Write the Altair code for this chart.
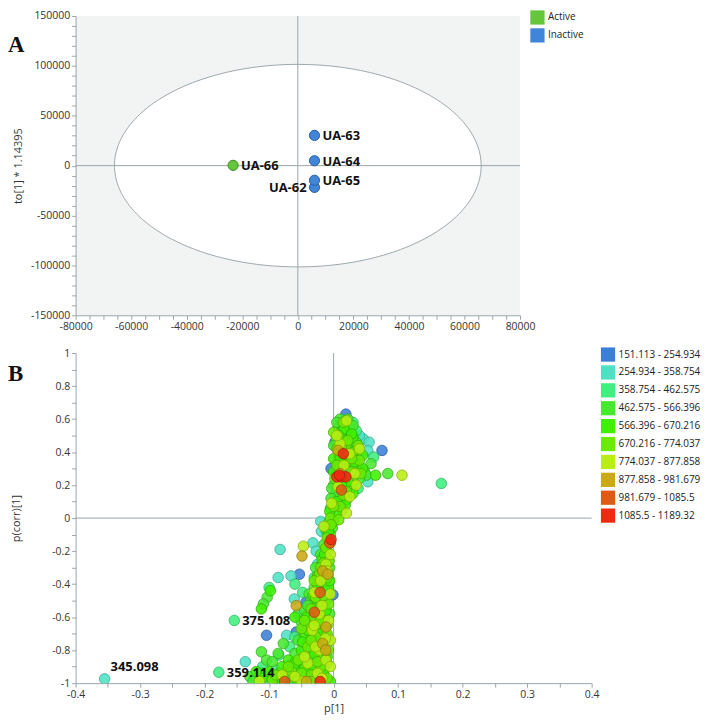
import altair as alt
import pandas as pd

# ---------------- Panel A: score plot ----------------
a_samples = ["UA-62", "UA-63", "UA-64", "UA-65", "UA-66"]
a_t1 = [6000, 6000, 6000, 6000, -23300]
a_to1 = [-21800, 30300, 4900, -14650, 300]
a_group = ["Inactive", "Inactive", "Inactive", "Inactive", "Active"]
a_label_side = ["left", "right", "right", "right", "right"]

a_groups = ["Active", "Inactive"]
a_fill = ["#63c63b", "#3f86d9"]
a_stroke = ["#3b8a22", "#2a5c9c"]

ellipse_semi_x = 66000
ellipse_semi_y = 101500

a_x_ticks = list(range(-80000, 80001, 5000))
a_y_ticks = list(range(-150000, 150001, 10000))

# ---------------- Panel B: S-plot ----------------
b_bins = ["151.113 - 254.934", "254.934 - 358.754", "358.754 - 462.575",
          "462.575 - 566.396", "566.396 - 670.216", "670.216 - 774.037",
          "774.037 - 877.858", "877.858 - 981.679", "981.679 - 1085.5",
          "1085.5 - 1189.32"]
b_fill = ["#3b7fd6", "#4ee0c4", "#3fef80", "#47e92f", "#3ff000",
          "#6aeb00", "#b9ee12", "#c9a915", "#de5b16", "#ee2a12"]
b_stroke = ["#25599e", "#35a58f", "#2cb05c", "#30a820", "#2da800",
            "#4aa800", "#85ad0c", "#8f780d", "#a0400e", "#ad1a0a"]

pts_151 = [(0.019, 0.63), (0.002, 0.46), (0.075, 0.41), (0.012, 0.57), (-0.053, -0.34),
           (-0.104, -0.71), (-0.058, -0.69), (-0.043, -0.51), (-0.001, -0.465),
           (-0.019, -0.91), (-0.07, -0.98), (-0.004, 0.3)]
pts_254 = [(0.046, 0.48), (0.055, 0.46), (0.053, 0.41), (0.053, 0.22), (0.03, 0.44),
           (0.04, 0.5), (0.025, 0.3), (-0.083, -0.19), (-0.032, -0.15), (-0.027, -0.2),
           (-0.066, -0.35), (-0.086, -0.36), (-0.061, -0.49), (-0.04, -0.54),
           (-0.073, -0.71), (-0.019, -0.08), (-0.025, -0.28), (-0.015, -0.38),
           (-0.355, -0.974), (-0.137, -0.87), (-0.115, -0.93), (-0.09, -0.92),
           (-0.08, -0.96), (-0.1, -0.99), (-0.06, -0.97), (-0.035, -0.62),
           (-0.045, -0.8), (-0.03, -0.86), (-0.065, -0.88), (-0.01, -0.72),
           (-0.02, -0.02), (0.008, 0.12)]
pts_358 = [(0.167, 0.21), (-0.154, -0.62), (-0.178, -0.934), (-0.1, -0.42), (-0.06, -0.4),
           (-0.05, -0.9), (-0.085, -0.83), (-0.12, -0.97), (-0.036, -0.7), (-0.02, -0.55),
           (-0.03, -0.36), (0.035, 0.53), (0.015, 0.47), (0.062, 0.37), (0.038, 0.18),
           (-0.01, -0.1), (-0.04, -0.75), (-0.11, -0.9), (-0.075, -0.93), (-0.068, -0.78),
           (-0.018, -0.42), (-0.048, -0.45), (-0.055, -0.58), (-0.025, -0.7),
           (-0.06, -0.72), (-0.045, -0.92), (-0.1, -0.96), (0.03, 0.58), (0.04, 0.31)]
pts_462 = [(0.01, 0.6), (0.007, 0.55), (0.025, 0.55), (0.019, 0.5), (0.004, 0.48),
           (0.038, 0.38), (0.058, 0.33), (0.025, 0.34), (0.035, 0.32), (0.048, 0.28),
           (0.084, 0.27), (0.051, 0.26), (0.02, 0.11), (0.01, 0.1), (0.0, 0.2),
           (0.002, 0.14), (-0.005, 0.06), (-0.008, -0.03), (-0.012, -0.07),
           (-0.015, -0.16), (-0.02, -0.22), (-0.028, -0.3), (-0.03, -0.42),
           (-0.038, -0.46), (-0.035, -0.5), (-0.045, -0.56), (-0.05, -0.63),
           (-0.025, -0.66), (-0.055, -0.74), (-0.03, -0.77), (-0.06, -0.82),
           (-0.04, -0.84), (-0.078, -0.76), (-0.086, -0.82), (-0.112, -0.81),
           (-0.104, -0.86), (-0.1, -0.95), (-0.09, -0.97), (-0.055, -0.95),
           (-0.03, -0.98), (-0.13, -0.96), (-0.01, -0.88), (-0.012, -0.5),
           (-0.006, -0.3), (-0.103, -0.48), (-0.109, -0.52),
           (0.005, 0.58), (0.022, 0.6), (0.03, 0.56), (0.012, 0.52), (0.0, 0.44),
           (0.024, 0.42), (0.035, 0.46), (0.008, 0.33), (0.018, 0.29), (0.04, 0.24),
           (0.025, 0.17), (0.005, 0.16), (-0.004, 0.12), (0.013, 0.05), (-0.003, 0.18),
           (-0.002, -0.06), (-0.006, -0.14), (-0.01, -0.24), (-0.018, -0.29),
           (-0.022, -0.4), (-0.01, -0.44), (-0.025, -0.52), (-0.04, -0.53),
           (-0.006, -0.58), (-0.035, -0.58), (-0.015, -0.68), (-0.045, -0.65),
           (-0.008, -0.75), (-0.035, -0.8), (-0.05, -0.88), (-0.015, -0.92),
           (-0.07, -0.95), (-0.04, -0.93), (-0.085, -0.94), (-0.11, -0.94),
           (-0.125, -0.99), (-0.02, -0.99), (-0.06, -0.91), (-0.03, -0.9), (-0.095, -0.87)]
pts_566 = [(0.03, 0.49), (0.0, 0.36), (0.015, 0.36), (0.03, 0.4), (0.045, 0.3),
           (0.065, 0.26), (0.03, 0.22), (0.015, 0.19), (0.005, 0.03), (0.0, -0.02),
           (-0.005, -0.1), (-0.01, -0.2), (-0.018, -0.25), (-0.015, -0.33),
           (-0.025, -0.4), (-0.02, -0.45), (-0.03, -0.55), (-0.015, -0.6),
           (-0.042, -0.6), (-0.02, -0.7), (-0.045, -0.7), (-0.015, -0.78),
           (-0.05, -0.8), (-0.022, -0.84), (-0.07, -0.86), (-0.035, -0.9),
           (-0.08, -0.9), (-0.015, -0.95), (-0.045, -0.97), (-0.11, -0.97),
           (-0.063, -0.99), (-0.005, -0.99), (-0.112, -0.55), (-0.098, -0.44),
           (-0.06, -0.6), (-0.008, -0.42),
           (0.016, 0.54), (0.028, 0.51), (0.008, 0.5), (0.02, 0.38), (0.01, 0.37),
           (0.032, 0.34), (0.0, 0.28), (0.022, 0.22), (0.012, 0.2), (0.03, 0.15),
           (0.005, 0.1), (0.018, 0.08), (-0.006, 0.04), (0.045, 0.38),
           (-0.008, -0.08), (-0.014, -0.22), (-0.025, -0.35), (-0.006, -0.38),
           (-0.032, -0.47), (-0.012, -0.56), (-0.025, -0.64), (-0.048, -0.75),
           (-0.03, -0.82), (-0.01, -0.84), (-0.06, -0.88), (-0.045, -0.91),
           (-0.03, -0.95), (-0.08, -0.98), (-0.1, -0.93), (-0.12, -0.93),
           (-0.055, -0.98), (-0.02, -0.76), (-0.04, -0.68)]
pts_670 = [(0.015, 0.58), (0.02, 0.45), (0.005, 0.42), (0.04, 0.35), (0.01, 0.3),
           (0.028, 0.28), (0.002, 0.24), (0.02, 0.16), (0.01, 0.07), (-0.005, 0.0),
           (-0.01, -0.12), (-0.012, -0.18), (-0.022, -0.34), (-0.01, -0.36),
           (-0.028, -0.48), (-0.008, -0.52), (-0.038, -0.65), (-0.01, -0.65),
           (-0.028, -0.72), (-0.008, -0.8), (-0.04, -0.78), (-0.055, -0.86),
           (-0.02, -0.9), (-0.065, -0.93), (-0.095, -0.98), (-0.01, -0.97),
           (-0.035, -0.95), (-0.05, -0.67), (-0.03, -0.6), (-0.015, -0.27),
           (0.0, 0.52), (0.022, 0.47), (0.038, 0.44), (0.012, 0.43), (0.028, 0.36),
           (0.005, 0.32), (0.042, 0.27), (0.015, 0.14), (0.0, 0.07), (0.008, -0.01),
           (-0.004, -0.04), (-0.007, -0.26), (-0.02, -0.3), (-0.03, -0.38),
           (-0.015, -0.47), (-0.035, -0.55), (-0.02, -0.62), (-0.045, -0.62),
           (-0.01, -0.7), (-0.035, -0.74), (-0.025, -0.87), (-0.07, -0.9),
           (-0.05, -0.94), (-0.09, -0.95), (-0.035, -0.99)]
pts_774 = [(0.02, 0.59), (0.033, 0.27), (0.106, 0.26), (0.04, 0.42), (0.01, 0.45),
           (0.025, 0.13), (-0.003, 0.09), (-0.047, -0.17), (-0.005, -0.22),
           (-0.012, -0.28), (-0.02, -0.38), (-0.005, -0.46), (-0.022, -0.58),
           (-0.008, -0.62), (-0.033, -0.68), (-0.005, -0.74), (-0.022, -0.8),
           (-0.012, -0.86), (-0.04, -0.88), (-0.025, -0.94), (-0.005, -0.9),
           (-0.05, -0.99), (-0.015, -0.05), (-0.08, -0.95), (-0.115, -0.99),
           (0.005, 0.5), (0.025, 0.39), (0.016, 0.32), (0.035, 0.2), (0.007, 0.19),
           (0.02, 0.03), (-0.01, -0.32), (-0.03, -0.45), (-0.018, -0.53),
           (-0.03, -0.65), (-0.013, -0.73), (-0.045, -0.84), (-0.018, -0.97),
           (-0.06, -0.96), (-0.028, -0.78)]
pts_877 = [(0.007, 0.41), (0.01, 0.27), (-0.049, -0.23), (-0.017, -0.32), (-0.009, -0.34),
           (-0.058, -0.53), (-0.012, -0.66), (-0.017, -0.76), (-0.042, -0.99),
           (-0.005, -0.15), (-0.012, -0.8)]
pts_981 = [(-0.021, -0.45), (-0.03, -0.57), (-0.076, -0.99), (0.012, 0.17), (-0.006, -0.15)]
pts_1085 = [(0.015, 0.39), (0.005, 0.25), (0.012, 0.25), (0.019, 0.25), (0.009, 0.26),
            (-0.004, -0.13), (-0.021, -0.99)]

b_class_points = [pts_151, pts_254, pts_358, pts_462, pts_566, pts_670,
                  pts_774, pts_877, pts_981, pts_1085]

b_labels = ["345.098", "359.114", "375.108"]
b_label_x = [-0.355, -0.178, -0.154]
b_label_y = [-0.974, -0.934, -0.62]

b_x_ticks = [-0.4, -0.35, -0.3, -0.25, -0.2, -0.15, -0.1, -0.05, 0,
             0.05, 0.1, 0.15, 0.2, 0.25, 0.3, 0.35, 0.4]
b_y_ticks = [-1, -0.9, -0.8, -0.7, -0.6, -0.5, -0.4, -0.3, -0.2, -0.1, 0,
             0.1, 0.2, 0.3, 0.4, 0.5, 0.6, 0.7, 0.8, 0.9, 1]

# ---------------- styling ----------------
FONT = "Open Sans"
AXIS_GRAY = "#9aa5aa"
LABEL_COLOR = "#333333"

A_W, A_H = 447, 301
B_W, B_H = 519, 332

df_a = pd.DataFrame({"sample": a_samples, "t1": a_t1, "to1": a_to1,
                     "group": a_group, "side": a_label_side})
rows = []
for k, pts in enumerate(b_class_points):
    for px, py in pts:
        rows.append({"p1": px, "pcorr": py, "bin": b_bins[k]})
df_b = pd.DataFrame(rows)
df_lab = pd.DataFrame({"mz": b_labels, "p1": b_label_x, "pcorr": b_label_y})
zero = pd.DataFrame({"v": [0]})


def axis_common(values, expr, **kw):
    return alt.Axis(values=values, labelExpr=expr, grid=False, tickSize=4,
                    tickColor=AXIS_GRAY, domainColor=AXIS_GRAY, labelColor=LABEL_COLOR,
                    labelFont=FONT, labelFontSize=10.5, labelPadding=2,
                    labelOverlap=False, labelFlush=False, titleFont=FONT,
                    titleFontSize=11, titleFontWeight="normal", titleColor=LABEL_COLOR,
                    **kw)


a_xexpr = "datum.value % 20000 == 0 ? (datum.value < 0 ? '-' : '') + format(abs(datum.value), 'd') : ''"
a_yexpr = "datum.value % 50000 == 0 ? (datum.value < 0 ? '-' : '') + format(abs(datum.value), 'd') : ''"
b_xexpr = "abs(round(datum.value * 20)) % 2 == 0 ? (datum.value < -0.0001 ? '-' : '') + format(abs(datum.value), '.1~f') : ''"
b_yexpr = "abs(round(datum.value * 10)) % 2 == 0 ? (datum.value < -0.0001 ? '-' : '') + format(abs(datum.value), '.1~f') : ''"


def xA(field):
    return alt.X(f"{field}:Q", scale=alt.Scale(domain=[-80000, 80000], nice=False, zero=False),
                 axis=axis_common(a_x_ticks, a_xexpr), title=None)


def yA(field):
    return alt.Y(f"{field}:Q", scale=alt.Scale(domain=[-150000, 150000], nice=False, zero=False),
                 axis=axis_common(a_y_ticks, a_yexpr, titleX=-52, titleY=A_H / 2,
                                  titleAngle=270, titleAlign="center",
                                  titleBaseline="bottom"),
                 title="to[1] * 1.14395")


def xB(field):
    return alt.X(f"{field}:Q", scale=alt.Scale(domain=[-0.4, 0.4], nice=False, zero=False),
                 axis=axis_common(b_x_ticks, b_xexpr, titlePadding=3), title="p[1]")


def yB(field):
    return alt.Y(f"{field}:Q", scale=alt.Scale(domain=[-1, 1], nice=False, zero=False),
                 axis=axis_common(b_y_ticks, b_yexpr, titleX=-54, titleY=B_H / 2,
                                  titleAngle=270, titleAlign="center",
                                  titleBaseline="bottom"),
                 title="p(corr)[1]")


def legend_at(x):
    return alt.Legend(orient="none", legendX=x, legendY=-6, title=None,
                      symbolType="square", symbolSize=205, symbolOpacity=1,
                      symbolStrokeWidth=0, labelFont=FONT, labelFontSize=10,
                      labelColor="#222222", labelOffset=3, rowPadding=3, padding=0)


# ---------------- Panel A ----------------
ellipse = alt.Chart(alt.sequence(0, 181, 1, as_="deg")).transform_calculate(
    ex=f"{ellipse_semi_x} * cos(datum.deg * PI / 180)",
    ey=f"{ellipse_semi_y} * sin(datum.deg * PI / 180)",
    ey2=f"-{ellipse_semi_y} * sin(datum.deg * PI / 180)",
).mark_area(fill="white", stroke=AXIS_GRAY, strokeWidth=1).encode(
    x=xA("ex"), y=yA("ey"), y2=alt.Y2("ey2:Q"))

a_vrule = alt.Chart(zero).mark_rule(color=AXIS_GRAY, strokeWidth=1).encode(x=xA("v"))
a_hrule = alt.Chart(zero).mark_rule(color=AXIS_GRAY, strokeWidth=1).encode(y=yA("v"))

a_points = alt.Chart(df_a).mark_circle(size=105, opacity=1, strokeWidth=1).encode(
    x=xA("t1"), y=yA("to1"),
    fill=alt.Fill("group:N", scale=alt.Scale(domain=a_groups, range=a_fill),
                  legend=legend_at(A_W + 10)),
    stroke=alt.Stroke("group:N", scale=alt.Scale(domain=a_groups, range=a_stroke),
                      legend=None),
)

a_lab_r = alt.Chart(df_a).transform_filter(alt.datum.side == "right").mark_text(
    align="left", baseline="middle", dx=8, dy=1, font=FONT, fontWeight="bold",
    fontSize=13, color="#111111").encode(x=xA("t1"), y=yA("to1"), text="sample:N")
a_lab_l = alt.Chart(df_a).transform_filter(alt.datum.side == "left").mark_text(
    align="right", baseline="middle", dx=-8, dy=1, font=FONT, fontWeight="bold",
    fontSize=13, color="#111111").encode(x=xA("t1"), y=yA("to1"), text="sample:N")

a_letter = alt.Chart(pd.DataFrame({"t": ["A"]})).mark_text(
    align="left", baseline="middle", font="Liberation Serif", fontWeight="bold",
    fontSize=23, color="#111111").encode(x=alt.value(-68), y=alt.value(29), text="t:N")

chart_a = alt.layer(ellipse, a_vrule, a_hrule, a_points, a_lab_r, a_lab_l, a_letter).properties(
    width=A_W, height=A_H, view=alt.ViewBackground(fill="#f2f4f4", strokeWidth=0))

# ---------------- Panel B ----------------
b_vrule = alt.Chart(zero).mark_rule(color=AXIS_GRAY, strokeWidth=1).encode(x=xB("v"))
b_hrule = alt.Chart(zero).mark_rule(color=AXIS_GRAY, strokeWidth=1).encode(y=yB("v"))

b_points = alt.Chart(df_b).mark_circle(size=112, opacity=1, fillOpacity=0.88,
                                        strokeOpacity=0.75, strokeWidth=1, clip=True).encode(
    x=xB("p1"), y=yB("pcorr"),
    fill=alt.Fill("bin:N", scale=alt.Scale(domain=b_bins, range=b_fill),
                  legend=legend_at(B_W + 9)),
    stroke=alt.Stroke("bin:N", scale=alt.Scale(domain=b_bins, range=b_stroke), legend=None),
)

b_lab_up = alt.Chart(df_lab).transform_filter(alt.datum.mz == "345.098").mark_text(
    align="left", baseline="middle", dx=6, dy=-12, font=FONT, fontWeight="bold",
    fontSize=13, color="#111111").encode(x=xB("p1"), y=yB("pcorr"), text="mz:N")
b_lab_side = alt.Chart(df_lab).transform_filter(alt.datum.mz != "345.098").mark_text(
    align="left", baseline="middle", dx=8, dy=1, font=FONT, fontWeight="bold",
    fontSize=13, color="#111111").encode(x=xB("p1"), y=yB("pcorr"), text="mz:N")

b_letter = alt.Chart(pd.DataFrame({"t": ["B"]})).mark_text(
    align="left", baseline="middle", font="Liberation Serif", fontWeight="bold",
    fontSize=23, color="#111111").encode(x=alt.value(-68), y=alt.value(21), text="t:N")

chart_b = alt.layer(b_vrule, b_hrule, b_points, b_lab_up, b_lab_side, b_letter).properties(
    width=B_W, height=B_H)

chart = alt.vconcat(chart_a, chart_b, spacing=15).resolve_scale(
    fill="independent", stroke="independent").properties(
    padding=0, background="white").configure_view(strokeWidth=0)

chart.save("out.html", embed_options={"renderer": "svg", "actions": False})
